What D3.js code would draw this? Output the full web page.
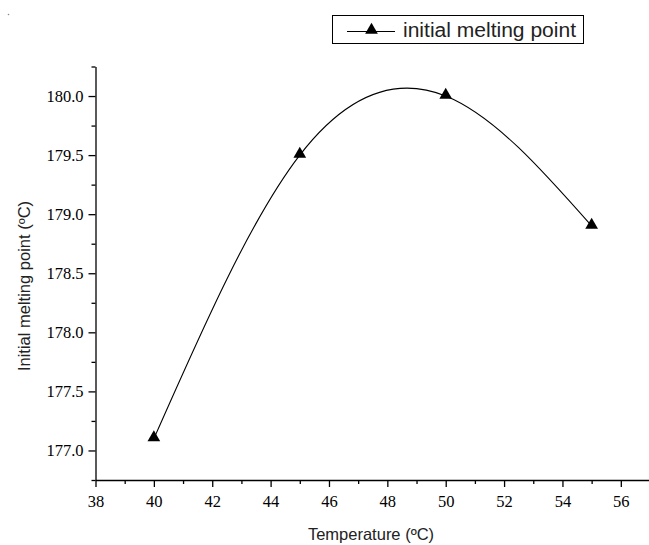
<!DOCTYPE html>
<html>
<head>
<meta charset="utf-8">
<script src="https://cdn.jsdelivr.net/npm/d3@7"></script>
<style>
  body { margin: 0; background: #fff; }
</style>
</head>
<body>
<script>
//------------------------1. PREPARATION------------------------//
// Setting size
const width = 649;
const height = 545;

// data
const temps = [40, 45, 50, 55];
const meltPoints = [177.1, 179.5, 180.0, 178.9];

// tick values
const xMajor = [38, 40, 42, 44, 46, 48, 50, 52, 54, 56];
const xMinor = [39, 41, 43, 45, 47, 49, 51, 53, 55, 57];
const yMajor = [177.0, 177.5, 178.0, 178.5, 179.0, 179.5, 180.0];
const yMinor = [176.75, 177.25, 177.75, 178.25, 178.75, 179.25, 179.75, 180.25];

const seriesName = 'initial melting point';
const xTitle = 'Temperature (ºC)';
const yTitle = 'Initial melting point (ºC)';

const data = temps.map(function (t, i) { return {x: t, y: meltPoints[i]}; });

const serif = "Liberation Serif";
const sans = "Liberation Sans";

//def svg
var svg = d3.select('body')
  .append('svg')
  .attr('width', width)
  .attr('height', height);

//-----------------------------SCALES-----------------------------//
let xScale = d3.scaleLinear()
  .domain([38, 57])
  .range([95.5, 650]);
let yScale = d3.scaleLinear()
  .domain([176.75, 180.25])
  .range([480, 66.5]);

//-------------------------2. DRAWING---------------------------//
//-----------------------------AXES-----------------------------//
// minor ticks first, no domain line
svg.append('g')
  .attr('transform', 'translate(0,480)')
  .call(d3.axisBottom(xScale).tickValues(xMinor).tickSize(4).tickFormat(''))
  .call(function (g) { g.select('.domain').remove(); });

svg.append('g')
  .attr('transform', 'translate(95.5,0)')
  .call(d3.axisLeft(yScale).tickValues(yMinor).tickSize(4).tickFormat(''))
  .call(function (g) { g.select('.domain').remove(); });

// major ticks with labels
svg.append('g')
  .attr('id', 'x-axis')
  .attr('transform', 'translate(0,480)')
  .call(d3.axisBottom(xScale).tickValues(xMajor).tickSize(7).tickSizeOuter(0)
    .tickPadding(8).tickFormat(d3.format('d')));

svg.append('g')
  .attr('id', 'y-axis')
  .attr('transform', 'translate(95.5,0)')
  .call(d3.axisLeft(yScale).tickValues(yMajor).tickSize(7).tickSizeOuter(0)
    .tickPadding(5).tickFormat(d3.format('.1f')));

svg.selectAll('.domain, .tick line')
  .attr('stroke', '#000')
  .attr('stroke-width', 1.3);
svg.selectAll('.tick text')
  .attr('fill', '#000')
  .attr('font-family', serif)
  .attr('font-size', 16.5);

//add text to axis
svg.append('text')
  .attr('x', 371)
  .attr('y', 540)
  .attr('text-anchor', 'middle')
  .attr('font-family', sans)
  .attr('font-size', 16.5)
  .attr('fill', '#222')
  .text(xTitle);

svg.append('text')
  .attr('transform', 'translate(29.5,286) rotate(-90)')
  .attr('text-anchor', 'middle')
  .attr('font-family', sans)
  .attr('font-size', 16.5)
  .attr('fill', '#222')
  .text(yTitle);

//----------------------------LINE-----------------------------//
const line = d3.line()
  .x(function (d) { return xScale(d.x); })
  .y(function (d) { return yScale(d.y); })
  .curve(d3.curveNatural);

svg.append('path')
  .datum(data)
  .attr('fill', 'none')
  .attr('stroke', '#000')
  .attr('stroke-width', 1.1)
  .attr('d', line);

const tri = d3.symbol().type(d3.symbolTriangle).size(70);

svg.selectAll('.marker')
  .data(data)
  .enter()
  .append('path')
  .attr('class', 'marker')
  .attr('transform', function (d) { return 'translate(' + xScale(d.x) + ',' + (yScale(d.y) - 1) + ')'; })
  .attr('fill', '#000')
  .attr('d', tri);

//----------------------------LEGEND-----------------------------//
const legend = svg.append('g').attr('id', 'legend');

legend.append('rect')
  .attr('x', 332.5)
  .attr('y', 15.5)
  .attr('width', 251)
  .attr('height', 28)
  .attr('fill', '#fff')
  .attr('stroke', '#000')
  .attr('stroke-width', 1);

legend.append('line')
  .attr('x1', 347)
  .attr('x2', 395)
  .attr('y1', 31.5)
  .attr('y2', 31.5)
  .attr('stroke', '#000')
  .attr('stroke-width', 1.1);

legend.append('path')
  .attr('transform', 'translate(371.5,30)')
  .attr('fill', '#000')
  .attr('d', tri);

legend.append('text')
  .attr('x', 403)
  .attr('y', 37)
  .attr('textLength', 173)
  .attr('lengthAdjust', 'spacingAndGlyphs')
  .attr('font-family', sans)
  .attr('font-size', 20)
  .attr('fill', '#222')
  .text(seriesName);

// stray dot in the top left corner
svg.append('circle')
  .attr('cx', 8.5)
  .attr('cy', 14.5)
  .attr('r', 0.8)
  .attr('fill', '#888');
</script>
</body>
</html>
